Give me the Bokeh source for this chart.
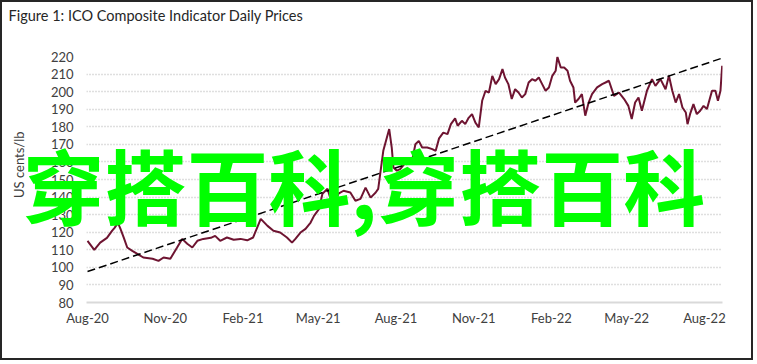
import pandas as pd
from bokeh.plotting import figure
from bokeh.models import Range1d, FixedTicker, LinearAxis, DatetimeAxis, ColumnDataSource
from bokeh.embed import file_html
from bokeh.resources import INLINE

# ---------------- data ----------------
dates = ["2020-08-01","2020-08-09","2020-08-16","2020-08-24","2020-08-30",
 "2020-09-02","2020-09-06","2020-09-09","2020-09-13","2020-09-17","2020-09-23","2020-09-29",
 "2020-10-06","2020-10-17","2020-10-24","2020-10-30",
 "2020-11-07","2020-11-15","2020-11-21","2020-11-27",
 "2020-12-03","2020-12-09","2020-12-16","2020-12-25","2020-12-30",
 "2021-01-05","2021-01-13","2021-01-21","2021-01-29",
 "2021-02-06","2021-02-13","2021-02-22",
 "2021-03-02","2021-03-09","2021-03-17","2021-03-25","2021-03-31",
 "2021-04-04","2021-04-10","2021-04-16","2021-04-22","2021-04-26",
 "2021-05-02","2021-05-06","2021-05-12","2021-05-18","2021-05-25","2021-05-31",
 "2021-06-08","2021-06-14","2021-06-20","2021-06-26",
 "2021-07-02","2021-07-08","2021-07-11","2021-07-17","2021-07-24","2021-07-27","2021-07-29",
 "2021-08-02","2021-08-06","2021-08-14","2021-08-20","2021-08-24","2021-08-28",
 "2021-09-01","2021-09-07","2021-09-13","2021-09-17","2021-09-21","2021-09-26",
 "2021-10-01","2021-10-05","2021-10-10","2021-10-13","2021-10-18","2021-10-22","2021-10-26","2021-10-30",
 "2021-11-03","2021-11-07","2021-11-11","2021-11-15","2021-11-19","2021-11-23","2021-11-27",
 "2021-12-01","2021-12-05","2021-12-08","2021-12-12","2021-12-16","2021-12-20","2021-12-24","2021-12-28",
 "2022-01-01","2022-01-05","2022-01-09","2022-01-13","2022-01-17","2022-01-21","2022-01-25","2022-01-29",
 "2022-02-02","2022-02-06","2022-02-08","2022-02-12","2022-02-16","2022-02-20","2022-02-23","2022-02-27",
 "2022-03-01","2022-03-05","2022-03-09","2022-03-13","2022-03-17","2022-03-21","2022-03-27",
 "2022-04-02","2022-04-06","2022-04-10","2022-04-16","2022-04-22","2022-04-28",
 "2022-05-03","2022-05-07","2022-05-11","2022-05-15","2022-05-19","2022-05-25","2022-05-31",
 "2022-06-04","2022-06-10","2022-06-16","2022-06-20","2022-06-24","2022-06-28",
 "2022-07-02","2022-07-06","2022-07-10","2022-07-12","2022-07-15","2022-07-19","2022-07-23","2022-07-27","2022-07-31",
 "2022-08-04","2022-08-10","2022-08-14","2022-08-17","2022-08-20","2022-08-22"]

prices = [115.1,110.0,114.1,116.8,120.8,
 122.5,125.3,121.9,116.8,111.3,109.4,107.7,
 105.6,104.9,103.7,105.6,
 104.9,111.3,116.2,113.4,
 111.3,115.1,116.2,116.8,117.9,
 115.1,117.0,115.7,116.2,
 115.4,117.0,127.6,
 123.6,120.8,119.8,117.0,114.1,
 116.2,119.8,121.9,125.5,129.3,
 133.3,141.9,144.7,135.0,141.9,143.6,
 142.6,137.9,139.0,145.4,
 139.7,142.6,144.7,166.3,178.7,168.2,156.8,
 155.0,155.9,160.6,160.6,170.1,172.0,
 168.2,168.2,167.3,166.3,173.4,176.7,
 175.8,181.5,184.8,180.6,183.4,181.5,185.1,187.2,
 182.4,179.6,194.8,200.5,199.5,209.0,204.3,
 207.1,212.8,208.0,204.3,195.8,201.4,199.5,196.7,
 198.6,205.2,207.1,206.2,208.0,204.3,200.5,202.4,
 209.0,211.9,219.8,213.7,213.7,211.9,206.2,202.4,
 193.8,195.8,198.6,186.3,193.8,198.6,202.4,
 204.3,205.2,206.2,197.6,199.5,195.8,
 191.9,184.4,193.8,196.7,189.1,200.5,207.1,
 203.3,207.1,201.4,209.0,200.5,193.8,
 198.6,191.0,188.1,181.5,187.2,192.9,187.2,189.1,191.9,
 190.1,200.5,200.5,194.8,200.5,214.7]

trend_dates = ["2020-08-01", "2022-08-22"]
trend_values = [97.6, 219.1]

tick_dates = ["2020-08-01", "2020-11-01", "2021-02-01", "2021-05-01", "2021-08-01",
              "2021-11-01", "2022-02-01", "2022-05-01", "2022-08-01"]
tick_labels = ["Aug-20", "Nov-20", "Feb-21", "May-21", "Aug-21",
               "Nov-21", "Feb-22", "May-22", "Aug-22"]
y_ticks = [80, 90, 100, 110, 120, 130, 140, 150, 160, 170, 180, 190, 200, 210, 220]

title_text = "Figure 1: ICO Composite Indicator Daily Prices"
y_label_text = "US cents/lb"
watermark_text = "穿搭百科,穿搭百科"

# ---------------- layout constants (positions only) ----------------
FONT = "Lato"
TITLE_CENTRE = "2020-10-21"   # horizontal centre of the title text
Y_LABEL_AT = 158.4            # vertical centre of the axis title, in y units
WATERMARK_AT = 147.6          # vertical centre of the watermark, in y units

def to_ms(s):
    return pd.Timestamp(s).value / 1e6

src = ColumnDataSource(dict(x=pd.to_datetime(dates), y=prices))
trend_src = ColumnDataSource(dict(x=pd.to_datetime(trend_dates), y=trend_values))

p = figure(width=753, height=360, output_backend="svg", toolbar_location=None,
           x_range=Range1d(to_ms("2020-07-31") - 0.2 * 86400000, to_ms("2022-08-22") + 0.4 * 86400000),
           y_range=Range1d(80, 220),
           min_border_left=84, min_border_right=33, min_border_top=54, min_border_bottom=60,
           x_axis_type="datetime")
p.styles = {"border": "2px solid #262626"}
p.outline_line_color = None
p.background_fill_color = "white"
p.border_fill_color = "white"

# grid
p.xgrid.grid_line_color = None
p.ygrid.ticker = FixedTicker(ticks=y_ticks[1:])
p.ygrid.grid_line_color = "#bfbfbf"
p.ygrid.grid_line_width = 1.5
p.ygrid.grid_line_dash = "1 2"

def plain(ax):
    ax.axis_line_color = None
    ax.major_tick_line_color = None
    ax.minor_tick_line_color = None
    ax.major_tick_out = 0
    ax.major_tick_in = 0
    ax.minor_tick_out = 0
    ax.minor_tick_in = 0

# y axis
yax = p.yaxis[0]
yax.ticker = FixedTicker(ticks=y_ticks)
plain(yax)
yax.major_label_standoff = 13
yax.major_label_text_font = FONT
yax.major_label_text_font_size = "13px"
yax.major_label_text_color = "#404040"

# x axis
tick_ms = [to_ms(d) for d in tick_dates]
xax = p.xaxis[0]
xax.ticker = FixedTicker(ticks=tick_ms)
xax.major_label_overrides = {t: l for t, l in zip(tick_ms, tick_labels)}
plain(xax)
xax.axis_line_color = "#d9d9d9"
xax.axis_line_width = 2
xax.major_label_standoff = 7
xax.major_label_text_font = FONT
xax.major_label_text_font_size = "13px"
xax.major_label_text_color = "#404040"

# series
p.line("x", "y", source=src, line_color="#6e1431", line_width=2)
p.line("x", "y", source=trend_src, line_color="black", line_width=1.5, line_dash="8 4")

# chart title, as the single label of an axis above the plot
t_ms = to_ms(TITLE_CENTRE)
tax = DatetimeAxis(ticker=FixedTicker(ticks=[t_ms]), major_label_overrides={t_ms: title_text})
plain(tax)
tax.major_label_standoff = 33
tax.major_label_text_font = FONT
tax.major_label_text_font_size = "14.5px"
tax.major_label_text_color = "#262626"
p.add_layout(tax, "above")

# y axis title, as a vertical single label on an outer left axis
yl = LinearAxis(ticker=FixedTicker(ticks=[Y_LABEL_AT]),
                major_label_overrides={Y_LABEL_AT: y_label_text},
                major_label_orientation="vertical")
plain(yl)
yl.major_label_standoff = 20
yl.major_label_text_font = FONT
yl.major_label_text_font_size = "13px"
yl.major_label_text_color = "#404040"
p.add_layout(yl, "left")

# watermark, drawn as the single label of an extra right axis pulled into the plot
wm = LinearAxis(ticker=FixedTicker(ticks=[WATERMARK_AT]),
                major_label_overrides={WATERMARK_AT: watermark_text})
plain(wm)
wm.major_label_standoff = -700
wm.major_label_text_font = "Noto Sans CJK SC"
wm.major_label_text_font_style = "bold"
wm.major_label_text_font_size = "82px"
wm.major_label_text_color = "#00ff00"
p.add_layout(wm, "right")

open("out.html", "w").write(file_html(p, INLINE))
